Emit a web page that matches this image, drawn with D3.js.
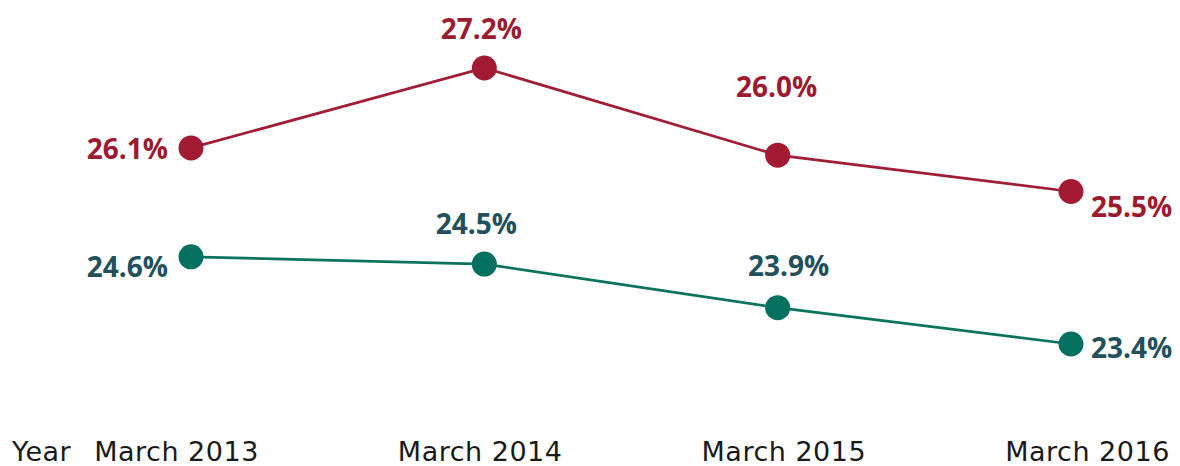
<!DOCTYPE html>
<html>
<head>
<meta charset="utf-8">
<script src="https://cdn.jsdelivr.net/npm/d3@7"></script>
<style>
  html, body { margin: 0; padding: 0; background: #fff; }
  svg { display: block; }
  .tick-label { font-family: "DejaVu Sans", sans-serif; font-size: 27px; letter-spacing: 0.5px; fill: #1a1a1a; }
  .val { font-family: "Open Sans", sans-serif; font-weight: 700; font-size: 28px; }
</style>
</head>
<body>
<svg id="chart" width="1180" height="466"></svg>
<script>
// data
const years = ["March 2013", "March 2014", "March 2015", "March 2016"];
const redValues = [26.1, 27.2, 26.0, 25.5];
const greenValues = [24.6, 24.5, 23.9, 23.4];
const axisTitle = "Year";

// label placement (layout only)
const redLabelPos = [
  { anchor: "end", dx: -23, dy: 11 },
  { anchor: "middle", dx: -3, dy: -29 },
  { anchor: "middle", dx: -1, dy: -58 },
  { anchor: "start", dx: 20, dy: 26 }
];
const greenLabelPos = [
  { anchor: "end", dx: -23, dy: 20 },
  { anchor: "middle", dx: -8, dy: -30 },
  { anchor: "middle", dx: 11, dy: -32 },
  { anchor: "start", dx: 20, dy: 14 }
];

const svg = d3.select("#chart");

const x = d3.scalePoint().domain(years).range([191, 1071]);
const xLabels = d3.scalePoint().domain(years).range([176, 1087]);
const y = d3.scaleLinear().domain([23.4, 27.2]).range([344, 68]);

/**
 * SERIES
 */
function drawSeries(values, lineColor, dotColor, textColor, labelPos) {
  const pts = values.map((v, i) => ({ cat: years[i], v, pos: labelPos[i] }));
  const g = svg.append("g");

  g.append("path")
    .datum(pts)
    .attr("fill", "none")
    .attr("stroke", lineColor)
    .attr("stroke-width", 2.7)
    .attr("d", d3.line().x(d => x(d.cat)).y(d => y(d.v)));

  g.selectAll("circle")
    .data(pts)
    .enter()
    .append("circle")
    .attr("cx", d => x(d.cat))
    .attr("cy", d => y(d.v))
    .attr("r", 12.5)
    .attr("fill", dotColor);

  g.selectAll("text")
    .data(pts)
    .enter()
    .append("text")
    .attr("class", "val")
    .attr("x", d => x(d.cat) + d.pos.dx)
    .attr("y", d => y(d.v) + d.pos.dy)
    .attr("text-anchor", d => d.pos.anchor)
    .attr("fill", textColor)
    .text(d => d.v.toFixed(1) + "%");
}

drawSeries(redValues, "#a21d36", "#a31b33", "#9c1b31", redLabelPos);
drawSeries(greenValues, "#0c7360", "#047060", "#22505b", greenLabelPos);

/**
 * X AXIS (labels only)
 */
const axis = svg.append("g")
  .attr("transform", "translate(0,461)")
  .call(d3.axisBottom(xLabels).tickSize(0).tickPadding(0));
axis.select(".domain").remove();
axis.selectAll("text")
  .attr("class", "tick-label")
  .attr("dy", 0)
  .attr("y", 0);
axis.attr("font-family", null).attr("font-size", null);

svg.append("text")
  .attr("class", "tick-label")
  .attr("x", 12)
  .attr("y", 461)
  .text(axisTitle);
</script>
</body>
</html>
